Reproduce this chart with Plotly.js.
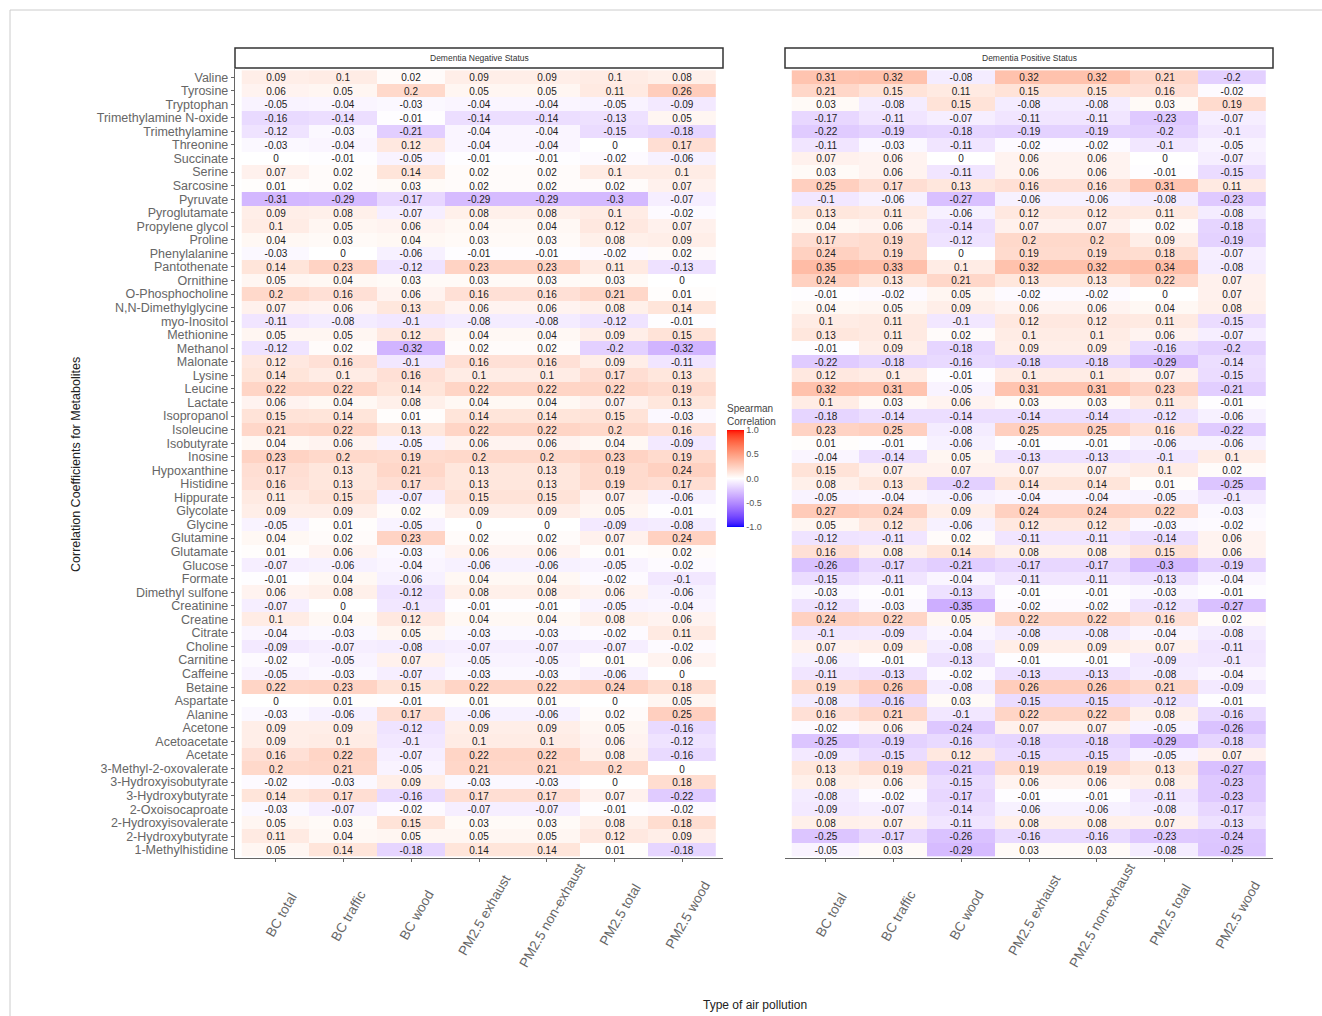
<!DOCTYPE html>
<html><head><meta charset="utf-8">
<script src="https://cdn.plot.ly/plotly-3.0.1.min.js"></script>
<style>html,body{margin:0;padding:0;background:#fff}#chart{width:1322px;height:1016px}</style>
</head><body><div id="chart"></div><script>
const metabolites = ["Valine","Tyrosine","Tryptophan","Trimethylamine N-oxide","Trimethylamine","Threonine","Succinate","Serine","Sarcosine","Pyruvate","Pyroglutamate","Propylene glycol","Proline","Phenylalanine","Pantothenate","Ornithine","O-Phosphocholine","N,N-Dimethylglycine","myo-Inositol","Methionine","Methanol","Malonate","Lysine","Leucine","Lactate","Isopropanol","Isoleucine","Isobutyrate","Inosine","Hypoxanthine","Histidine","Hippurate","Glycolate","Glycine","Glutamine","Glutamate","Glucose","Formate","Dimethyl sulfone","Creatinine","Creatine","Citrate","Choline","Carnitine","Caffeine","Betaine","Aspartate","Alanine","Acetone","Acetoacetate","Acetate","3-Methyl-2-oxovalerate","3-Hydroxyisobutyrate","3-Hydroxybutyrate","2-Oxoisocaproate","2-Hydroxyisovalerate","2-Hydroxybutyrate","1-Methylhistidine"];
const pollutants = ["BC total","BC traffic","BC wood","PM2.5 exhaust","PM2.5 non-exhaust","PM2.5 total","PM2.5 wood"];
const panelTitles = ["Dementia Negative Status","Dementia Positive Status"];

const negativeValues = [
[0.09,0.1,0.02,0.09,0.09,0.1,0.08],
[0.06,0.05,0.2,0.05,0.05,0.11,0.26],
[-0.05,-0.04,-0.03,-0.04,-0.04,-0.05,-0.09],
[-0.16,-0.14,-0.01,-0.14,-0.14,-0.13,0.05],
[-0.12,-0.03,-0.21,-0.04,-0.04,-0.15,-0.18],
[-0.03,-0.04,0.12,-0.04,-0.04,0,0.17],
[0,-0.01,-0.05,-0.01,-0.01,-0.02,-0.06],
[0.07,0.02,0.14,0.02,0.02,0.1,0.1],
[0.01,0.02,0.03,0.02,0.02,0.02,0.07],
[-0.31,-0.29,-0.17,-0.29,-0.29,-0.3,-0.07],
[0.09,0.08,-0.07,0.08,0.08,0.1,-0.02],
[0.1,0.05,0.06,0.04,0.04,0.12,0.07],
[0.04,0.03,0.04,0.03,0.03,0.08,0.09],
[-0.03,0,-0.06,-0.01,-0.01,-0.02,0.02],
[0.14,0.23,-0.12,0.23,0.23,0.11,-0.13],
[0.05,0.04,0.03,0.03,0.03,0.03,0],
[0.2,0.16,0.06,0.16,0.16,0.21,0.01],
[0.07,0.06,0.13,0.06,0.06,0.08,0.14],
[-0.11,-0.08,-0.1,-0.08,-0.08,-0.12,-0.01],
[0.05,0.05,0.12,0.04,0.04,0.09,0.15],
[-0.12,0.02,-0.32,0.02,0.02,-0.2,-0.32],
[0.12,0.16,-0.1,0.16,0.16,0.09,-0.11],
[0.14,0.1,0.16,0.1,0.1,0.17,0.13],
[0.22,0.22,0.14,0.22,0.22,0.22,0.19],
[0.06,0.04,0.08,0.04,0.04,0.07,0.13],
[0.15,0.14,0.01,0.14,0.14,0.15,-0.03],
[0.21,0.22,0.13,0.22,0.22,0.2,0.16],
[0.04,0.06,-0.05,0.06,0.06,0.04,-0.09],
[0.23,0.2,0.19,0.2,0.2,0.23,0.19],
[0.17,0.13,0.21,0.13,0.13,0.19,0.24],
[0.16,0.13,0.17,0.13,0.13,0.19,0.17],
[0.11,0.15,-0.07,0.15,0.15,0.07,-0.06],
[0.09,0.09,0.02,0.09,0.09,0.05,-0.01],
[-0.05,0.01,-0.05,0,0,-0.09,-0.08],
[0.04,0.02,0.23,0.02,0.02,0.07,0.24],
[0.01,0.06,-0.03,0.06,0.06,0.01,0.02],
[-0.07,-0.06,-0.04,-0.06,-0.06,-0.05,-0.02],
[-0.01,0.04,-0.06,0.04,0.04,-0.02,-0.1],
[0.06,0.08,-0.12,0.08,0.08,0.06,-0.06],
[-0.07,0,-0.1,-0.01,-0.01,-0.05,-0.04],
[0.1,0.04,0.12,0.04,0.04,0.08,0.06],
[-0.04,-0.03,0.05,-0.03,-0.03,-0.02,0.11],
[-0.09,-0.07,-0.08,-0.07,-0.07,-0.07,-0.02],
[-0.02,-0.05,0.07,-0.05,-0.05,0.01,0.06],
[-0.05,-0.03,-0.07,-0.03,-0.03,-0.06,0],
[0.22,0.23,0.15,0.22,0.22,0.24,0.18],
[0,0.01,-0.01,0.01,0.01,0,0.05],
[-0.03,-0.06,0.17,-0.06,-0.06,0.02,0.25],
[0.09,0.09,-0.12,0.09,0.09,0.05,-0.16],
[0.09,0.1,-0.1,0.1,0.1,0.06,-0.12],
[0.16,0.22,-0.07,0.22,0.22,0.08,-0.16],
[0.2,0.21,-0.05,0.21,0.21,0.2,0],
[-0.02,-0.03,0.09,-0.03,-0.03,0,0.18],
[0.14,0.17,-0.16,0.17,0.17,0.07,-0.22],
[-0.03,-0.07,-0.02,-0.07,-0.07,-0.01,-0.02],
[0.05,0.03,0.15,0.03,0.03,0.08,0.18],
[0.11,0.04,0.05,0.05,0.05,0.12,0.09],
[0.05,0.14,-0.18,0.14,0.14,0.01,-0.18]
];

const positiveValues = [
[0.31,0.32,-0.08,0.32,0.32,0.21,-0.2],
[0.21,0.15,0.11,0.15,0.15,0.16,-0.02],
[0.03,-0.08,0.15,-0.08,-0.08,0.03,0.19],
[-0.17,-0.11,-0.07,-0.11,-0.11,-0.23,-0.07],
[-0.22,-0.19,-0.18,-0.19,-0.19,-0.2,-0.1],
[-0.11,-0.03,-0.11,-0.02,-0.02,-0.1,-0.05],
[0.07,0.06,0,0.06,0.06,0,-0.07],
[0.03,0.06,-0.11,0.06,0.06,-0.01,-0.15],
[0.25,0.17,0.13,0.16,0.16,0.31,0.11],
[-0.1,-0.06,-0.27,-0.06,-0.06,-0.08,-0.23],
[0.13,0.11,-0.06,0.12,0.12,0.11,-0.08],
[0.04,0.06,-0.14,0.07,0.07,0.02,-0.18],
[0.17,0.19,-0.12,0.2,0.2,0.09,-0.19],
[0.24,0.19,0,0.19,0.19,0.18,-0.07],
[0.35,0.33,0.1,0.32,0.32,0.34,-0.08],
[0.24,0.13,0.21,0.13,0.13,0.22,0.07],
[-0.01,-0.02,0.05,-0.02,-0.02,0,0.07],
[0.04,0.05,0.09,0.06,0.06,0.04,0.08],
[0.1,0.11,-0.1,0.12,0.12,0.11,-0.15],
[0.13,0.11,0.02,0.1,0.1,0.06,-0.07],
[-0.01,0.09,-0.18,0.09,0.09,-0.16,-0.2],
[-0.22,-0.18,-0.16,-0.18,-0.18,-0.29,-0.14],
[0.12,0.1,-0.01,0.1,0.1,0.07,-0.15],
[0.32,0.31,-0.05,0.31,0.31,0.23,-0.21],
[0.1,0.03,0.06,0.03,0.03,0.11,-0.01],
[-0.18,-0.14,-0.14,-0.14,-0.14,-0.12,-0.06],
[0.23,0.25,-0.08,0.25,0.25,0.16,-0.22],
[0.01,-0.01,-0.06,-0.01,-0.01,-0.06,-0.06],
[-0.04,-0.14,0.05,-0.13,-0.13,-0.1,0.1],
[0.15,0.07,0.07,0.07,0.07,0.1,0.02],
[0.08,0.13,-0.2,0.14,0.14,0.01,-0.25],
[-0.05,-0.04,-0.06,-0.04,-0.04,-0.05,-0.1],
[0.27,0.24,0.09,0.24,0.24,0.22,-0.03],
[0.05,0.12,-0.06,0.12,0.12,-0.03,-0.02],
[-0.12,-0.11,0.02,-0.11,-0.11,-0.14,0.06],
[0.16,0.08,0.14,0.08,0.08,0.15,0.06],
[-0.26,-0.17,-0.21,-0.17,-0.17,-0.3,-0.19],
[-0.15,-0.11,-0.04,-0.11,-0.11,-0.13,-0.04],
[-0.03,-0.01,-0.13,-0.01,-0.01,-0.03,-0.01],
[-0.12,-0.03,-0.35,-0.02,-0.02,-0.12,-0.27],
[0.24,0.22,0.05,0.22,0.22,0.16,0.02],
[-0.1,-0.09,-0.04,-0.08,-0.08,-0.04,-0.08],
[0.07,0.09,-0.08,0.09,0.09,0.07,-0.11],
[-0.06,-0.01,-0.13,-0.01,-0.01,-0.09,-0.1],
[-0.11,-0.13,-0.02,-0.13,-0.13,-0.08,-0.04],
[0.19,0.26,-0.08,0.26,0.26,0.21,-0.09],
[-0.08,-0.16,0.03,-0.15,-0.15,-0.12,-0.01],
[0.16,0.21,-0.1,0.22,0.22,0.08,-0.16],
[-0.02,0.06,-0.24,0.07,0.07,-0.05,-0.26],
[-0.25,-0.19,-0.16,-0.18,-0.18,-0.29,-0.18],
[-0.09,-0.15,0.12,-0.15,-0.15,-0.05,0.07],
[0.13,0.19,-0.21,0.19,0.19,0.13,-0.27],
[0.08,0.06,-0.15,0.06,0.06,0.08,-0.23],
[-0.08,-0.02,-0.17,-0.01,-0.01,-0.11,-0.23],
[-0.09,-0.07,-0.14,-0.06,-0.06,-0.08,-0.17],
[0.08,0.07,-0.11,0.08,0.08,0.07,-0.13],
[-0.25,-0.17,-0.26,-0.16,-0.16,-0.23,-0.24],
[-0.05,0.03,-0.29,0.03,0.03,-0.08,-0.25]
];

const colorbarTickVals = [-1,-0.5,0,0.5,1];
const colorbarTickText = ["-1.0","-0.5","0.0","0.5","1.0"];

// ---- Lab-space gradient (blue - white - red), like ggplot2 scale_fill_gradient2 ----
function toLin(c){c/=255;return c<=0.04045?c/12.92:Math.pow((c+0.055)/1.055,2.4);}
function fromLin(c){const v=c<=0.0031308?12.92*c:1.055*Math.pow(c,1/2.4)-0.055;return Math.round(Math.max(0,Math.min(1,v))*255);}
function rgb2lab(rgb){
  const R=toLin(rgb[0]),G=toLin(rgb[1]),B=toLin(rgb[2]);
  let X=(0.4124*R+0.3576*G+0.1805*B)/0.95047, Y=(0.2126*R+0.7152*G+0.0722*B), Z=(0.0193*R+0.1192*G+0.9505*B)/1.08883;
  const f=t=>t>0.008856?Math.cbrt(t):7.787*t+16/116;
  const fx=f(X),fy=f(Y),fz=f(Z);
  return [116*fy-16,500*(fx-fy),200*(fy-fz)];
}
function lab2rgb(lab){
  const fy=(lab[0]+16)/116, fx=fy+lab[1]/500, fz=fy-lab[2]/200;
  const fi=t=>{const t3=t*t*t;return t3>0.008856?t3:(t-16/116)/7.787;};
  const X=fi(fx)*0.95047, Y=fi(fy), Z=fi(fz)*1.08883;
  const R=3.2406*X-1.5372*Y-0.4986*Z, G=-0.9689*X+1.8758*Y+0.0415*Z, B=0.0557*X-0.2040*Y+1.0570*Z;
  return 'rgb('+fromLin(R)+','+fromLin(G)+','+fromLin(B)+')';
}
const labLow=rgb2lab([0,0,255]), labMid=rgb2lab([255,255,255]), labHigh=rgb2lab([255,0,0]);
const colorscale=[];
const N=60;
for(let i=0;i<=N;i++){
  const t=i/N, z=-1+2*t;
  let a,b,u;
  if(z<0){a=labLow;b=labMid;u=z+1;}else{a=labMid;b=labHigh;u=z;}
  const lab=[a[0]+(b[0]-a[0])*u,a[1]+(b[1]-a[1])*u,a[2]+(b[2]-a[2])*u];
  colorscale.push([t,lab2rgb(lab)]);
}

const W=1322,H=1016;
const px=v=>v/W, py=v=>1-v/H;
const panels=[[235,723],[785,1273]];
const panelTop=69, panelBottom=858;
const FONT='Liberation Sans, Arial, sans-serif';

function heat(vals,xa,showscale){
  return {
    type:'heatmap', x:pollutants, y:metabolites, z:vals, zmin:-1, zmax:1,
    colorscale:colorscale, xaxis:xa, yaxis:'y',
    text:vals.map(r=>r.map(v=>String(v))), texttemplate:'%{text}',
    textfont:{family:FONT,size:10,color:'#222'},
    hoverinfo:'skip', showscale:showscale,
    colorbar:{x:px(727),xanchor:'left',xref:'paper',y:py(464),yanchor:'middle',yref:'paper',
      len:126,lenmode:'pixels',thickness:17,thicknessmode:'pixels',outlinewidth:0,
      tickvals:colorbarTickVals,ticktext:colorbarTickText,ticks:'',
      tickfont:{family:FONT,size:9,color:'#555'},xpad:0,ypad:0,
      title:{text:'Spearman<br>Correlation',side:'top',font:{family:FONT,size:10,color:'#444'}}}
  };
}

const xaxisBase={range:[-0.6,6.6],type:'category',showticklabels:false,ticks:'outside',ticklen:3,
  tickcolor:'#666',showline:true,linecolor:'#666',linewidth:1.2,showgrid:false,zeroline:false,anchor:'y',fixedrange:true};

const annotations=[];
const shapes=[];
panels.forEach((p,k)=>{
  shapes.push({type:'rect',xref:'paper',yref:'paper',x0:px(p[0]),x1:px(p[1]),y0:py(68),y1:py(48),
    line:{color:'#333',width:1.5},fillcolor:'#fff'});
  annotations.push({xref:'paper',yref:'paper',x:px((p[0]+p[1])/2),y:py(58),text:panelTitles[k],showarrow:false,
    font:{family:FONT,size:8.5,color:'#333'},xanchor:'center',yanchor:'middle'});
  pollutants.forEach(c=>{
    annotations.push({xref:k===0?'x':'x2',yref:'paper',x:c,y:py(915),text:c,textangle:-60,showarrow:false,
      xshift:5,font:{family:FONT,size:13.5,color:'#666'},xanchor:'center',yanchor:'middle'});
  });
});
annotations.push({xref:'paper',yref:'paper',x:px(755),y:py(1005),text:'Type of air pollution',showarrow:false,
  font:{family:FONT,size:12,color:'#222'},xanchor:'center',yanchor:'middle'});
annotations.push({xref:'paper',yref:'paper',x:px(76),y:py(465),text:'Correlation Coefficients for Metabolites',textangle:-90,showarrow:false,
  font:{family:FONT,size:12.5,color:'#222'},xanchor:'center',yanchor:'middle'});
shapes.push({type:'rect',xref:'paper',yref:'paper',x0:px(10),x1:1.01,y0:-0.01,y1:py(10),line:{color:'#ccc',width:1}});

const layout={
  width:W,height:H,margin:{l:0,r:0,t:0,b:0},paper_bgcolor:'#fff',plot_bgcolor:'#fff',
  showlegend:false,
  xaxis:Object.assign({},xaxisBase,{domain:[px(235),px(723)]}),
  xaxis2:Object.assign({},xaxisBase,{domain:[px(785),px(1273)]}),
  yaxis:{domain:[py(panelBottom),py(panelTop)],range:[57.6,-0.6],type:'category',ticks:'outside',ticklen:3,
    tickmode:'array',tickvals:metabolites,ticktext:metabolites,
    tickcolor:'#666',showline:true,linecolor:'#666',linewidth:1.2,showgrid:false,zeroline:false,anchor:'x',
    tickfont:{family:FONT,size:12.5,color:'#666'},fixedrange:true},
  annotations:annotations, shapes:shapes
};

Plotly.newPlot('chart',[heat(negativeValues,'x',true),heat(positiveValues,'x2',false)],layout,{displayModeBar:false,staticPlot:true});
</script></body></html>
